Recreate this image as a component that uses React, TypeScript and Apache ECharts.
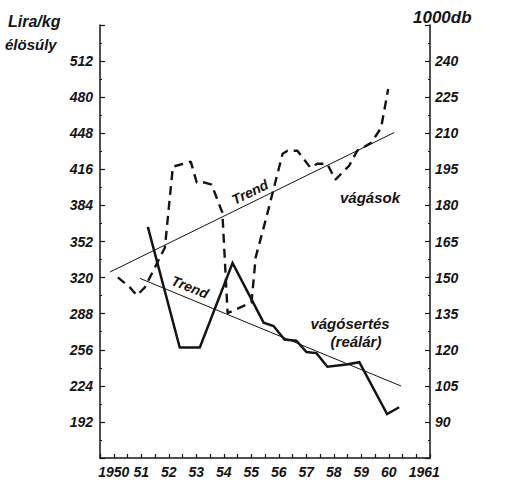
import React, { useEffect, useRef } from "react";
import * as echarts from "echarts";

const xTickYears = [1950, 1951, 1952, 1953, 1954, 1955, 1956, 1957, 1958, 1959, 1960, 1961];

const priceYears = [1951.24, 1952.4, 1953.13, 1954.32, 1955.45, 1955.81, 1956.21, 1956.64, 1957.01, 1957.37, 1957.77, 1958.46, 1958.93, 1959.94, 1960.38];
const priceValues = [365, 258, 258, 333, 280, 277, 265, 264, 254, 253, 241, 243, 245, 199, 205];

const slaughterYears = [1950.15, 1950.59, 1950.84, 1951.13, 1951.86, 1952.15, 1952.8, 1953.02, 1953.31, 1953.56, 1953.95, 1954.14, 1955.01, 1955.16, 1955.55, 1956.14, 1956.32, 1956.68, 1957.15, 1957.4, 1957.76, 1958.06, 1958.56, 1958.85, 1959.36, 1959.72, 1959.98];
const slaughterValues = [150.1, 145.9, 142.6, 145.9, 162.5, 196.1, 198.2, 189.5, 189.5, 188.6, 177.0, 135.2, 139.7, 158.4, 175.0, 201.5, 202.7, 202.7, 195.7, 197.3, 197.3, 190.7, 196.5, 202.7, 206.0, 212.2, 228.4];

const slaughterTrendYears = [1949.86, 1960.2];
const slaughterTrendValues = [152.3, 210.3];

const priceTrendYears = [1950.95, 1960.45];
const priceTrendValues = [319.3, 223.8];

const INK = "#141414";
const FONT = "Liberation Sans";

const zip = (xs: number[], ys: number[]) => xs.map((x, i) => [x, ys[i]]);

export default function App() {
  const ref = useRef<HTMLDivElement>(null);
  useEffect(() => {
    if (!ref.current) return;
    const chart = echarts.init(ref.current, null, { renderer: "svg" });
    const labelStyle = {
      color: INK,
      fontFamily: FONT,
      fontStyle: "italic" as const,
      fontWeight: "bold" as const,
      fontSize: 14,
    };
    const txt = (text: string, x: number, y: number, size: number, rotation = 0, align = "center") => ({
      type: "text",
      x,
      y,
      rotation,
      style: {
        text,
        fill: INK,
        font: `italic bold ${size}px "${FONT}"`,
        align,
        verticalAlign: "middle",
      },
    });
    chart.setOption({
      animation: false,
      backgroundColor: "#fff",
      grid: { left: 100, right: 79, top: 25, bottom: 22 },
      xAxis: {
        type: "value",
        min: 1949.5,
        max: 1961.5,
        interval: 0.5,
        axisLine: { show: true, lineStyle: { color: INK, width: 1.5 } },
        axisTick: { show: true, inside: true, length: 4, lineStyle: { color: INK, width: 1.2 } },
        splitLine: { show: false },
        axisLabel: {
          ...labelStyle,
          margin: 7,
          rich: { r: { ...labelStyle, padding: [0, 0, 0, 16] } },
          formatter: (v: number) => {
            const yr = Math.round(v * 2) / 2;
            if (!xTickYears.includes(yr)) return "";
            if (yr === 1950) return "1950";
            if (yr === 1961) return "{r|1961}";
            return String(yr % 100);
          },
        },
      },
      yAxis: [
        {
          type: "value",
          min: 160,
          max: 544,
          interval: 32,
          position: "left",
          axisLine: { show: true, lineStyle: { color: INK, width: 1.5 } },
          axisTick: { show: true, inside: true, length: 5, lineStyle: { color: INK, width: 1.2 } },
          minorTick: { show: true, splitNumber: 2, length: 2, lineStyle: { color: INK } },
          splitLine: { show: false },
          axisLabel: {
            ...labelStyle,
            margin: 7,
            formatter: (v: number) => (v === 160 || v === 544 ? "" : String(v)),
          },
        },
        {
          type: "value",
          min: 75,
          max: 255,
          interval: 15,
          position: "right",
          axisLine: { show: true, lineStyle: { color: INK, width: 1.5 } },
          axisTick: { show: true, inside: true, length: 5, lineStyle: { color: INK, width: 1.2 } },
          minorTick: { show: true, splitNumber: 2, length: 2, lineStyle: { color: INK } },
          splitLine: { show: false },
          axisLabel: {
            ...labelStyle,
            margin: 5,
            formatter: (v: number) => (v === 75 || v === 255 ? "" : String(v)),
          },
        },
      ],
      series: [
        {
          name: "vágósertés (reálár)",
          type: "line",
          yAxisIndex: 0,
          data: zip(priceYears, priceValues),
          symbol: "none",
          lineStyle: { color: INK, width: 2.5, join: "miter" },
        },
        {
          name: "vágások",
          type: "line",
          yAxisIndex: 1,
          data: zip(slaughterYears, slaughterValues),
          symbol: "none",
          lineStyle: { color: INK, width: 2.4, type: [9, 6] },
        },
        {
          name: "Trend vágások",
          type: "line",
          yAxisIndex: 1,
          data: zip(slaughterTrendYears, slaughterTrendValues),
          symbol: "none",
          lineStyle: { color: INK, width: 1 },
        },
        {
          name: "Trend vágósertés",
          type: "line",
          yAxisIndex: 0,
          data: zip(priceTrendYears, priceTrendValues),
          symbol: "none",
          lineStyle: { color: INK, width: 1 },
        },
      ],
      graphic: [
        txt("Lira/kg", 8, 21, 16, 0, "left"),
        txt("élösúly", 5, 44, 15, 0, "left"),
        txt("1000db", 413, 17, 17, 0, "left"),
        txt("Trend", 250, 192, 14, 0.45),
        txt("Trend", 190, 287, 14, -0.38),
        txt("vágások", 370, 197, 15),
        txt("vágósertés", 350, 323, 15),
        txt("(reálár)", 356, 341, 15),
      ],
    });
    return () => chart.dispose();
  }, []);
  return <div ref={ref} style={{ position: "absolute", left: 0, top: 0, width: 509, height: 480 }} />;
}
